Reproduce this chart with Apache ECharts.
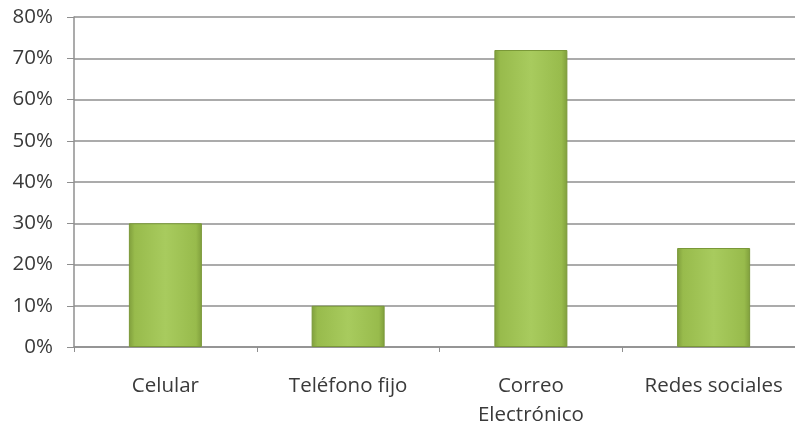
<!DOCTYPE html>
<html>
<head>
<meta charset="utf-8">
<script src="https://cdn.jsdelivr.net/npm/echarts@6/dist/echarts.min.js"></script>
<style>html,body{margin:0;padding:0;background:#fff}#c{width:795px;height:428px}</style>
</head>
<body>
<div id="c"></div>
<script>
const categories = ['Celular', 'Teléfono fijo', 'Correo\nElectrónico', 'Redes sociales'];
const values = [30, 10, 72, 24];
const yTicks = [0, 10, 20, 30, 40, 50, 60, 70, 80];

const chart = echarts.init(document.getElementById('c'), null, {renderer: 'canvas'});
const font = '"Open Sans", "Noto Sans", sans-serif';
chart.setOption({
  animation: false,
  grid: {left: 74, top: 17, bottom: 81, width: 731, outerBoundsMode: 'none', containLabel: false},
  xAxis: {
    type: 'category',
    data: categories,
    axisLine: {lineStyle: {color: '#8f8f8f', width: 1.5}},
    axisTick: {show: true, length: 5, lineStyle: {color: '#8f8f8f'}},
    axisLabel: {color: '#3a3a3a', fontSize: 20.5, fontFamily: font, margin: 25, lineHeight: 29,
      interval: 0, hideOverlap: false}
  },
  yAxis: {
    type: 'value',
    min: yTicks[0],
    max: yTicks[yTicks.length - 1],
    interval: 10,
    axisLine: {show: true, lineStyle: {color: '#8f8f8f', width: 1.5}},
    axisTick: {show: true, length: 7, lineStyle: {color: '#8f8f8f'}},
    splitLine: {lineStyle: {color: '#8f8f8f', width: 1.5}},
    axisLabel: {color: '#3a3a3a', fontSize: 20.5, fontFamily: font, margin: 21,
      formatter: v => v + '%'}
  },
  series: [{
    type: 'bar',
    data: values,
    barWidth: 73,
    itemStyle: {
      color: new echarts.graphic.LinearGradient(0, 0, 1, 0, [
        {offset: 0, color: '#7f9e3c'},
        {offset: 0.08, color: '#98bb4c'},
        {offset: 0.5, color: '#a8cb5e'},
        {offset: 0.92, color: '#98bb4c'},
        {offset: 1, color: '#7f9e3c'}
      ]),
      borderColor: '#7a9838',
      borderWidth: 1
    }
  }]
});
</script>
</body>
</html>
